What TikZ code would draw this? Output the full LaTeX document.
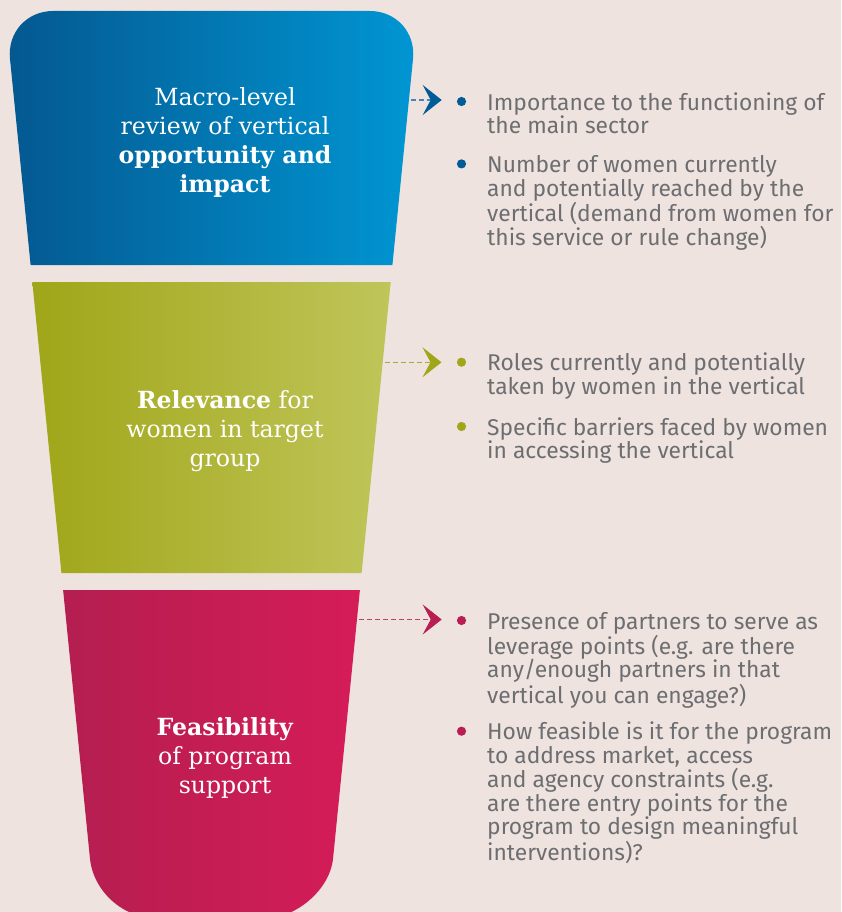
\documentclass[tikz,border=0pt]{standalone}
\usepackage{fontspec}
\setmainfont{Fira Sans}
\newfontfamily\slab{DejaVu Serif}
\usetikzlibrary{arrows.meta}
\definecolor{bgc}{HTML}{EFE3DF}
\definecolor{blueA}{HTML}{045890}
\definecolor{blueB}{HTML}{0070AC}
\definecolor{blueC}{HTML}{0096D3}
\definecolor{greenA}{HTML}{A0A618}
\definecolor{greenB}{HTML}{ACB140}
\definecolor{greenC}{HTML}{C0C55A}
\definecolor{redA}{HTML}{B41E50}
\definecolor{redB}{HTML}{C01F55}
\definecolor{redC}{HTML}{D51C58}
\definecolor{txtgray}{HTML}{6D6E71}
\definecolor{blueDot}{HTML}{005B96}
\definecolor{greenDot}{HTML}{A0A618}
\definecolor{redDot}{HTML}{B81E52}
\definecolor{blueDash}{HTML}{4A84B5}
\definecolor{greenDash}{HTML}{A6AA35}
\definecolor{redDash}{HTML}{C0406B}
\begin{document}
\begin{tikzpicture}[x=1pt,y=-1pt,
  title/.style={anchor=north, inner sep=0pt, align=center, text=white,
    font={\slab\fontsize{23.6}{29}\selectfont}},
  item/.style={anchor=north west, inner sep=0pt, align=left, text=txtgray,
    font={\fontsize{22.8}{23.8}\selectfont}},
  dot/.style={circle, fill=#1, draw=none, inner sep=0pt, minimum size=9.2pt},
  link/.style={line width=1.2pt, draw=#1Dash, dash pattern=on 4.5pt off 3.5pt,
    -{Stealth[length=19pt,width=30pt,inset=8pt,color=#1Dot]}}
]
\useasboundingbox (0,0) rectangle (841,912);
\clip (0,0) rectangle (841,912);
\fill[bgc] (0,0) rectangle (841,912);

% funnel parts
\shade[left color=blueA, middle color=blueB, right color=blueC]
  (30.6,265) -- (9.98,58.76) .. controls (7.34,32.4) and (26.7,11) .. (53.2,11)
  -- (369.8,11) .. controls (396.3,11) and (415.66,32.4) .. (413.02,58.76)
  -- (392.4,265) -- cycle;
\shade[left color=greenA, middle color=greenB, right color=greenC]
  (32.3,282) -- (390.7,282) -- (361.6,573) -- (61.4,573) -- cycle;
\shade[left color=redA, middle color=redB, right color=redC]
  (63.1,590) -- (89.93,858.3) .. controls (93.23,891.26) and (122.8,918) .. (155.9,918)
  -- (267.1,918) .. controls (294.2,918) and (329.77,891.26) .. (333.07,858.3)
  -- (359.9,590) -- cycle;

% titles
\node[title] (t1) at (225,85.3) {\rule{0pt}{20pt}Macro-level\\review of vertical\\\textbf{opportunity and}\\\textbf{impact}};
\node[title] (t2) at (225,388.7) {\rule{0pt}{20pt}\textbf{Relevance} for\\women in target\\group};
\node[title] (t3) at (225,715.5) {\rule{0pt}{20pt}\textbf{Feasibility}\\of program\\support};

% connectors
\coordinate (a1s) at (411,100);
\coordinate (a1e) at (441.7,100);
\coordinate (a2s) at (385,362.3);
\coordinate (a2e) at (441.5,362.3);
\coordinate (a3s) at (359,619.5);
\coordinate (a3e) at (441.7,619.5);
\draw[link=blue] (a1s) -- (a1e);
\draw[link=green] (a2s) -- (a2e);
\draw[link=red] (a3s) -- (a3e);

% bullets
\node[dot=blueDot] (b11) at (461.5,101.5) {};
\node[dot=blueDot] (b12) at (461.5,163.9) {};
\node[dot=greenDot] (b21) at (461.5,362.2) {};
\node[dot=greenDot] (b22) at (461.5,426.5) {};
\node[dot=redDot] (b31) at (461.5,620.5) {};
\node[dot=redDot] (b32) at (461.5,731.2) {};

% items
\node[item] (i11) at (487,91) {\rule{0pt}{19pt}Importance to the functioning of\\the main sector};
\node[item] (i12) at (487,153.3) {\rule{0pt}{19pt}Number of women currently\\and potentially reached by the\\vertical (demand from women for\\this service or rule change)};
\node[item] (i21) at (487,351.5) {\rule{0pt}{19pt}Roles currently and potentially\\taken by women in the vertical};
\node[item] (i22) at (487,415.8) {\rule{0pt}{19pt}Specific barriers faced by women\\in accessing the vertical};
\node[item] (i31) at (487,609.8) {\rule{0pt}{19pt}Presence of partners to serve as\\leverage points (e.g. are there\\any/enough partners in that\\vertical you can engage?)};
\node[item] (i32) at (487,720.5) {\rule{0pt}{19pt}How feasible is it for the program\\to address market, access\\and agency constraints (e.g.\\are there entry points for the\\program to design meaningful\\interventions)?};
\end{tikzpicture}
\end{document}
